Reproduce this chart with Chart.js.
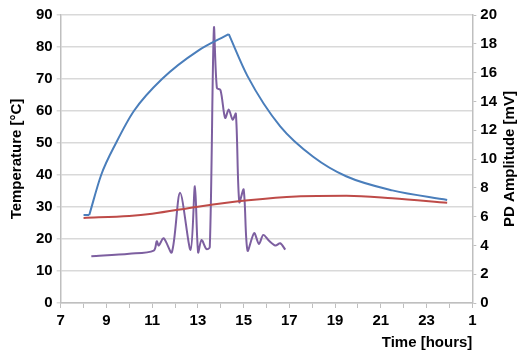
<!DOCTYPE html>
<html lang="en">
<head>
    <meta charset="UTF-8">
    <title>Temperature and PD amplitude</title>
    <script src="https://cdn.jsdelivr.net/npm/chart.js@4.4.0/dist/chart.umd.min.js"></script>
    <style>
        html, body { margin: 0; padding: 0; background: #fff; }
        #wrap { width: 521px; height: 354px; }
    </style>
</head>
<body>
<div id="wrap"><canvas id="chart" width="521" height="354"></canvas></div>
<script>
// Conductor temperature (blue)
const tempHours = [8, 8.25, 8.77, 9.42, 10.2, 11.43, 13.0, 14.35, 15.17, 16.6, 18.04, 19.48, 21.5, 23.9];
const tempValues = [27.5, 27.5, 40, 50, 60, 70, 78.8, 84, 70.9, 55.2, 45.7, 39.6, 35.2, 32.2];
// sharp corners of the blue trace (current switched on / off)
const tempCorners = [1, 7];

// Ambient temperature (red)
const ambHours = [8, 10, 11, 13, 15.2, 17.3, 19.5, 21.5, 23.9];
const ambValues = [26.6, 27.2, 27.9, 30.1, 32.1, 33.3, 33.5, 32.7, 31.3];

// PD amplitude in mV (purple, right axis)
const pdHours = [8.34, 10, 11.07, 11.2, 11.29, 11.5, 11.86, 12.22, 12.68, 12.87, 13.01, 13.16, 13.37, 13.52, 13.7, 13.83, 13.99, 14.19, 14.35, 14.52, 14.66, 14.81, 15.0, 15.17, 15.46, 15.67, 15.86, 16.1, 16.39, 16.6, 16.82];
const pdValues = [3.24, 3.42, 3.64, 4.29, 3.99, 4.5, 3.52, 7.65, 3.69, 8.11, 3.52, 4.38, 3.75, 3.87, 19.07, 14.94, 14.78, 12.85, 13.43, 12.73, 13.15, 7.0, 7.88, 3.64, 4.85, 4.1, 4.73, 4.34, 3.99, 4.15, 3.71];

const xMin = 7, xMax = 25;
const tempTicks = [0, 10, 20, 30, 40, 50, 60, 70, 80, 90];
const pdTicks = [0, 2, 4, 6, 8, 10, 12, 14, 16, 18, 20];

const pts = (xs, ys) => xs.map((x, i) => ({ x: x, y: ys[i] }));

const tickFont = { family: 'Liberation Sans, Arial, sans-serif', size: 15, weight: 'bold' };
const titleFont = { family: 'Liberation Sans, Arial, sans-serif', size: 15, weight: 'bold' };

// blue trace split at its corners so each piece is smoothed on its own
const tempPieces = [];
const cuts = [0].concat(tempCorners, [tempHours.length - 1]);
for (let i = 0; i < cuts.length - 1; i++) {
    tempPieces.push({
        label: 'Temperature',
        data: pts(tempHours.slice(cuts[i], cuts[i + 1] + 1), tempValues.slice(cuts[i], cuts[i + 1] + 1)),
        borderColor: '#4a7ebb',
        borderWidth: 2,
        pointRadius: 0,
        cubicInterpolationMode: 'monotone',
        yAxisID: 'y'
    });
}

// right axis title reads bottom-to-top, like the left one
const rightTitle = {
    id: 'rightTitle',
    afterDraw(chart) {
        const ca = chart.chartArea;
        const ctx = chart.ctx;
        ctx.save();
        ctx.translate(510, (ca.top + ca.bottom) / 2);
        ctx.rotate(-Math.PI / 2);
        ctx.font = 'bold 15px Liberation Sans, Arial, sans-serif';
        ctx.fillStyle = '#000';
        ctx.textAlign = 'center';
        ctx.textBaseline = 'middle';
        ctx.fillText('PD Amplitude [mV]', 0, 0);
        ctx.restore();
    }
};

new Chart(document.getElementById('chart'), {
    type: 'line',
    data: {
        datasets: tempPieces.concat([
            {
                label: 'Ambient',
                data: pts(ambHours, ambValues),
                borderColor: '#be4b48',
                borderWidth: 2,
                pointRadius: 0,
                cubicInterpolationMode: 'monotone',
                yAxisID: 'y'
            },
            {
                label: 'PD Amplitude',
                data: pts(pdHours, pdValues),
                borderColor: '#7d5fa0',
                borderWidth: 2,
                pointRadius: 0,
                tension: 0.3,
                yAxisID: 'y2'
            }
        ])
    },
    options: {
        responsive: false,
        animation: false,
        layout: { padding: { top: 15, right: 20, left: 4, bottom: 0 } },
        plugins: { legend: { display: false }, tooltip: { enabled: false } },
        scales: {
            x: {
                type: 'linear',
                min: xMin,
                max: xMax,
                afterBuildTicks: s => { s.ticks = []; for (let h = xMin; h <= xMax; h++) s.ticks.push({ value: h }); },
                ticks: {
                    autoSkip: false,
                    maxRotation: 0,
                    color: '#000',
                    font: tickFont,
                    padding: 4,
                    callback: v => (v % 2 === 1 ? String(v > 24 ? v - 24 : v) : '')
                },
                grid: { drawOnChartArea: false, tickLength: 5, color: '#bfbfbf' },
                border: { color: '#bfbfbf', width: 1.5 },
                title: { display: true, text: 'Time [hours]', align: 'end', color: '#000', font: titleFont, padding: { top: 0, bottom: 2 } }
            },
            y: {
                position: 'left',
                min: 0,
                max: 90,
                afterBuildTicks: s => { s.ticks = tempTicks.map(v => ({ value: v })); },
                ticks: { color: '#000', font: tickFont, padding: 4 },
                grid: { color: '#d9d9d9', lineWidth: 1.5, tickLength: 4 },
                border: { color: '#bfbfbf', width: 1.5 },
                title: { display: true, text: 'Temperature [°C]', color: '#000', font: titleFont, padding: { bottom: 6 } }
            },
            y2: {
                position: 'right',
                min: 0,
                max: 20,
                afterBuildTicks: s => { s.ticks = pdTicks.map(v => ({ value: v })); },
                ticks: { color: '#000', font: tickFont, padding: 4 },
                grid: { drawOnChartArea: false, color: '#bfbfbf', tickLength: 4 },
                border: { color: '#bfbfbf', width: 1.5 }
            }
        }
    },
    plugins: [rightTitle]
});
</script>
</body>
</html>
